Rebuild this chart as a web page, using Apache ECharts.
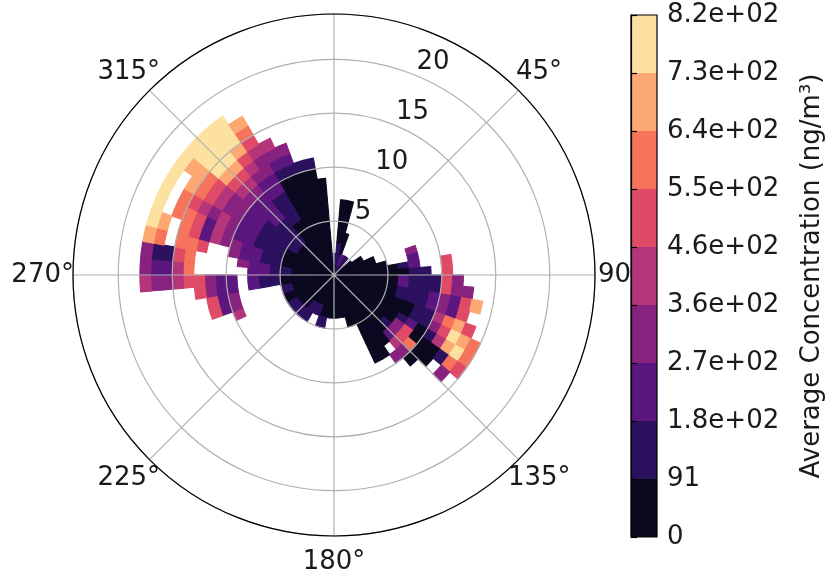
<!DOCTYPE html>
<html><head><meta charset="utf-8">
<script src="https://cdn.jsdelivr.net/npm/echarts@6/dist/echarts.min.js"></script>
<style>html,body{margin:0;padding:0;background:#fff}#c{width:830px;height:577px}</style>
</head><body><div id="c"></div>
<script>
// ---- data (pollution rose, 5° x 1 unit cells) ----
const angleBinStarts = [0,5,10,15,20,25,30,35,40,45,50,55,60,65,70,75,80,85,90,95,100,105,110,115,
  120,125,130,135,140,145,150,155,160,165,170,175,180,185,190,195,200,205,210,215,220,225,230,235,
  240,245,250,255,260,265,270,275,280,285,290,295,300,305,310,315,320,325,330,335,340,345,350,355];
const angleBinWidth = 5;
const radiusBinWidth = 1;
// one string per angle bin, one char per radius bin (0..), digit = concentration level, '.' = no data
const cellLevels = [
  "01",
  "0110000",
  "0110000",
  "1100",
  "12",
  "12",
  "11",
  "11",
  "0",
  "0",
  "00",
  "000",
  "000",
  "0000",
  "0000...3",
  "00000..2",
  "00000012..5",
  "000000011.5",
  "000000211153",
  "0000002111533",
  "00000011123257",
  "0000001112325",
  "00000000114675",
  "000000001135876",
  "000000012014786",
  "000000035000165",
  "000000135600.3",
  "00000002430",
  "00000000.3",
  "000000000",
  "000000000",
  "00000",
  "00000",
  "0000",
  "0000",
  "0000",
  "0000",
  "0000",
  "00001",
  "00001",
  "0001",
  "0001",
  "00011",
  "00011",
  "00001",
  "00001",
  "00001",
  "00001",
  "00000",
  "00000....4",
  "00001....325",
  "00001....325",
  "00000112.2235",
  "00000112.223554334",
  "00001122.....64223",
  "000011223....65113",
  "0000011223..566.67",
  "000001122334256.78",
  "0000011122342566.8",
  "0000011122343456.8",
  "0000111122334567.8",
  "000011112233456778",
  "000011122234578888",
  "000011122234578888",
  "000000111223457888",
  "00000011122334567",
  "00000000001234",
  "0000000000123",
  "00000000001",
  "00000000001",
  "000000000",
  "0"
];
const levelValues = [45, 137, 228, 319, 410, 501, 592, 683, 774];
const levelBounds = [0, 91.1, 182.2, 273.3, 364.4, 455.6, 546.7, 637.8, 728.9, 820];
const levelColors = ['#0b0920','#2c115f','#5c167f','#87237f','#b5357a','#df4b66','#f6735c','#fca872','#fde1a1'];
const colorbarTicks = ['0','91','1.8e+02','2.7e+02','3.6e+02','4.6e+02','5.5e+02','6.4e+02','7.3e+02','8.2e+02'];
const radiusMax = 24.2;

// ---- build cells ----
const cells = [];
cellLevels.forEach((row, i) => {
  const a0 = angleBinStarts[i];
  for (let j = 0; j < row.length; j++) {
    const ch = row[j];
    if (ch === '.') continue;
    cells.push([j * radiusBinWidth, (j + 1) * radiusBinWidth, a0, a0 + angleBinWidth, levelValues[+ch]]);
  }
});

const pieces = [];
for (let k = levelColors.length - 1; k >= 0; k--) {
  pieces.push({ gte: levelBounds[k], lt: levelBounds[k + 1], color: levelColors[k] });
}

function renderCell(params, api) {
  const cs = params.coordSys;
  const cx = cs.cx, cy = cs.cy;
  const pIn = api.coord([api.value(0), api.value(2)]);
  const pA = api.coord([api.value(1), api.value(2)]);
  const pB = api.coord([api.value(1), api.value(3)]);
  const r0 = Math.hypot(pIn[0] - cx, pIn[1] - cy);
  const r = Math.hypot(pA[0] - cx, pA[1] - cy);
  let s = Math.atan2(pA[1] - cy, pA[0] - cx);
  let e = Math.atan2(pB[1] - cy, pB[0] - cx);
  if (e < s) e += Math.PI * 2;
  const color = api.visual('color');
  return {
    type: 'sector',
    shape: { cx: cx, cy: cy, r0: r0, r: r, startAngle: s, endAngle: e, clockwise: true },
    style: { fill: color, stroke: color, lineWidth: 1.1 }
  };
}

const FONT = 'DejaVu Sans';
const TXT = '#1a1a1a';
const angleRich = {
  a45:  { fontSize: 26, fontFamily: FONT, color: TXT, padding: [0, 0, 16, 8] },
  a90:  { fontSize: 26, fontFamily: FONT, color: TXT, padding: [0, 0, 0, 18] },
  a135: { fontSize: 26, fontFamily: FONT, color: TXT, padding: [16, 0, 0, 0] },
  a180: { fontSize: 26, fontFamily: FONT, color: TXT, padding: [28, 0, 0, 0] },
  a225: { fontSize: 26, fontFamily: FONT, color: TXT, padding: [16, 0, 0, 0] },
  a270: { fontSize: 26, fontFamily: FONT, color: TXT, padding: [0, 14, 0, 0] },
  a315: { fontSize: 26, fontFamily: FONT, color: TXT, padding: [0, 0, 16, 0] }
};

const chart = echarts.init(document.getElementById('c'), null, { renderer: 'canvas' });
chart.setOption({
  animation: false,
  backgroundColor: '#fff',
  polar: [
    { center: [334, 275], radius: 261 },
    { center: [334, 275], radius: 261 }
  ],
  angleAxis: [
    {
      polarIndex: 0, type: 'value', min: 0, max: 360, interval: 45,
      startAngle: 90, clockwise: true, z: 10,
      axisLine: { lineStyle: { color: '#000', width: 1.2 } },
      axisTick: { show: false },
      splitLine: { lineStyle: { color: '#b0b0b0', width: 1.2 } },
      axisLabel: {
        margin: -15,
        formatter: v => (v === 0 || v === 360) ? '' : (v === 90 ? '{a90|90}' : '{a' + v + '|' + v + '°}'),
        rich: angleRich
      }
    },
    { polarIndex: 1, type: 'value', min: 0, max: 360, startAngle: 67.5, clockwise: true, show: false }
  ],
  radiusAxis: [
    {
      polarIndex: 0, type: 'value', min: 0, max: radiusMax, interval: 5, z: 10,
      axisLine: { show: false }, axisTick: { show: false }, axisLabel: { show: false },
      splitLine: { lineStyle: { color: '#b0b0b0', width: 1.2 } }
    },
    {
      polarIndex: 1, type: 'value', min: 0, max: radiusMax, interval: 5, z: 10,
      axisLine: { show: false }, axisTick: { show: false }, splitLine: { show: false },
      axisLabel: {
        margin: 0, align: 'left', verticalAlign: 'bottom',
        fontSize: 26, fontFamily: FONT, color: TXT,
        formatter: v => (v > 0 && v % 5 === 0 && v < radiusMax - 1) ? String(v) : ''
      }
    }
  ],
  grid: {
    left: 631, top: 15, width: 26, height: 522,
    show: true, borderColor: '#000', borderWidth: 1.2, backgroundColor: 'transparent', z: 10
  },
  xAxis: { type: 'value', show: false, gridIndex: 0 },
  yAxis: {
    type: 'category', gridIndex: 0, position: 'right', boundaryGap: false,
    data: colorbarTicks, z: 10,
    axisLine: { show: true, lineStyle: { color: '#000', width: 1.2 } },
    axisTick: { show: true, length: 6, lineStyle: { color: '#000', width: 1.2 } },
    axisLabel: { margin: 10, fontSize: 26, fontFamily: FONT, color: TXT },
    splitLine: { show: false },
    name: 'Average Concentration (ng/m³)',
    nameLocation: 'middle', nameRotate: 90, nameGap: 142,
    nameTextStyle: { fontSize: 26, fontFamily: FONT, color: TXT }
  },
  visualMap: {
    type: 'piecewise', seriesIndex: 0, dimension: 4,
    pieces: pieces, showLabel: false, itemSymbol: 'rect',
    itemWidth: 26, itemHeight: 58, itemGap: 0, padding: 0,
    left: 631, top: 15, orient: 'vertical', selectedMode: false, hoverLink: false, z: 5
  },
  series: [{
    type: 'custom', coordinateSystem: 'polar', polarIndex: 0,
    renderItem: renderCell,
    encode: { radius: [0, 1], angle: [2, 3] },
    data: cells, z: 2, silent: true
  }]
});
</script>
</body></html>
